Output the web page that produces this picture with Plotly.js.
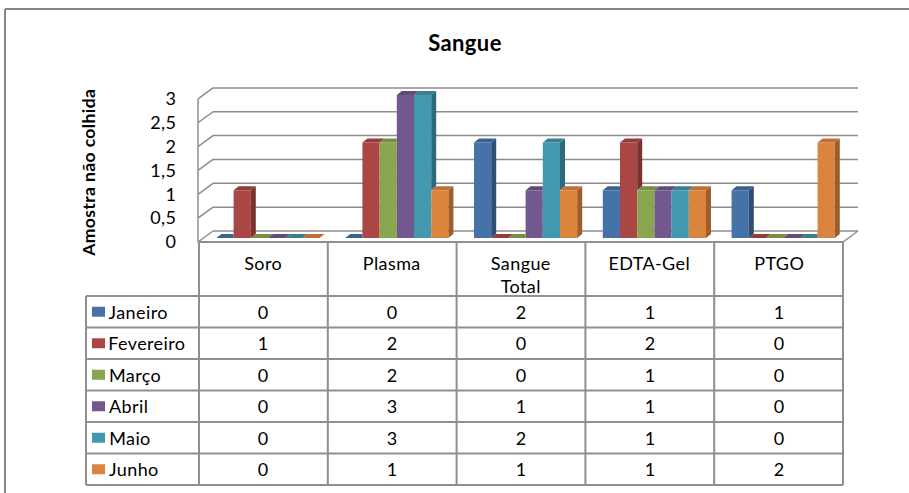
<!DOCTYPE html>
<html>
<head>
<meta charset="utf-8">
<script src="https://cdn.plot.ly/plotly-3.0.1.min.js"></script>
<style>
  html, body { margin: 0; padding: 0; background: #ffffff; }
  #chart { width: 909px; height: 493px; }
  #chart text { letter-spacing: 0.4px; }
</style>
</head>
<body>
<div id="chart"></div>
<script>
// ---- data ----
const categories = ['Soro', 'Plasma', 'Sangue Total', 'EDTA-Gel', 'PTGO'];
const categoryLabels = ['Soro', 'Plasma', 'Sangue<br>Total', 'EDTA-Gel', 'PTGO'];
const months = ['Janeiro', 'Fevereiro', 'Março', 'Abril', 'Maio', 'Junho'];
const janeiro   = [0, 0, 2, 1, 1];
const fevereiro = [1, 2, 0, 2, 0];
const marco     = [0, 2, 0, 1, 0];
const abril     = [0, 3, 1, 1, 0];
const maio      = [0, 3, 2, 1, 0];
const junho     = [0, 1, 1, 1, 2];
const yTicks    = [0, 0.5, 1, 1.5, 2, 2.5, 3];

const series = [janeiro, fevereiro, marco, abril, maio, junho];

// ---- colours (front / side / top faces) ----
const frontColors = ['#4572A7', '#AA4643', '#89A54E', '#71588F', '#4198AF', '#DB843D'];
const sideColors  = ['#2F4E76', '#7A3230', '#62783A', '#513F68', '#2D6B7C', '#9E5D2A'];
const topColors   = ['#3A6291', '#933C39', '#768F42', '#614B7B', '#387F92', '#C07034'];

// ---- geometry (pixels on the 909x493 canvas) ----
const W = 909, H = 493;
const px = x => x / W;
const py = y => 1 - y / H;

const X0 = 199, X1 = 843;          // plot / table column span
const colW = (X1 - X0) / categories.length;
const yFront0 = 242, unitPx = 47.7; // front edge of the floor and pixels per unit
const yTopPx = 80, yBotPx = 250;
const yRange = [(yFront0 - yBotPx) / unitPx, (yFront0 - yTopPx) / unitPx];

const barW = 17.2 / colW;           // bar width in category units
const barStart = -47 / colW;        // first bar's left edge relative to category centre
const baseV = 4 / unitPx;           // bars stand slightly behind the floor edge
const dX = 5 / colW, dY = 4 / unitPx; // bar depth

const gridCol = '#8c8c8c';
const tableCol = '#8f8f8f';
const FONT = 'Lato, "Open Sans", sans-serif';
const FS = 18;

const catIdx = categories.map((_, i) => i);
const traces = [];

// front faces as bars
series.forEach((vals, i) => {
  traces.push({
    type: 'bar',
    name: months[i],
    x: catIdx,
    y: vals,
    base: baseV,
    width: barW,
    offset: barStart + i * barW,
    marker: { color: frontColors[i], line: { width: 0 } },
    hoverinfo: 'skip',
    showlegend: false
  });
});

// side and top faces computed from the same values
series.forEach((vals, i) => {
  const sx = [], sy = [], tx = [], ty = [];
  vals.forEach((v, c) => {
    const x0 = c + barStart + i * barW;
    const x1 = x0 + barW;
    const t = baseV + v;
    const hasNext = i < series.length - 1;
    const vn = hasNext ? series[i + 1][c] : 0;
    const tn = baseV + vn;
    // top face (clipped where the next, taller bar hides it)
    if (hasNext && vn > v) {
      tx.push(x0, x1, x1, x0 + dX, null);
      ty.push(t, t, t + dY, t + dY, null);
    } else {
      tx.push(x0, x1, x1 + dX, x0 + dX, null);
      ty.push(t, t, t + dY, t + dY, null);
    }
    // visible part of the side face
    if (v > vn || (!hasNext && v > 0)) {
      const lo = hasNext ? tn : baseV;
      sx.push(x1, x1 + dX, x1 + dX, x1, null);
      sy.push(lo, lo + dY, t + dY, t, null);
    }
  });
  if (sx.length) {
    traces.push({
      type: 'scatter', mode: 'lines', x: sx, y: sy, fill: 'toself',
      fillcolor: sideColors[i], line: { width: 0, color: sideColors[i] },
      hoverinfo: 'skip', showlegend: false
    });
  }
  traces.push({
    type: 'scatter', mode: 'lines', x: tx, y: ty, fill: 'toself',
    fillcolor: topColors[i], line: { width: 0, color: topColors[i] },
    hoverinfo: 'skip', showlegend: false
  });
});

// ---- walls, floor and grid ----
const shapes = [];
const line = (xa, ya, xb, yb, color, width) => shapes.push({
  type: 'line', xref: 'paper', yref: 'paper', layer: 'below',
  x0: px(xa), y0: py(ya), x1: px(xb), y1: py(yb),
  line: { color: color, width: width }
});

// chart frame
line(5, 9, 920, 9, '#868686', 2);
line(5, 9, 5, 510, '#868686', 2);

yTicks.forEach(v => {
  const yf = yFront0 - unitPx * v;
  const yb = 231 - unitPx * v;
  line(198, yf, 213, yb, gridCol, 1.5);
  line(213, yb, 858, yb, gridCol, 1.5);
});
// left wall front edge and floor right edge
line(198, yFront0 - unitPx * 3, 198, yFront0, gridCol, 1.5);
line(X1, yFront0, 858, 231, gridCol, 1.5);

// ---- data table ----
const headTop = 242, rowTop = 296, rowH = 31.5;
const nRows = months.length;
const tableBottom = rowTop + nRows * rowH;
line(X0 - 1, headTop, X1, headTop, tableCol, 2);
for (let r = 0; r <= nRows; r++) {
  line(86, rowTop + r * rowH, X1, rowTop + r * rowH, tableCol, 2);
}
line(86, rowTop, 86, tableBottom, tableCol, 2);
for (let c = 0; c <= categories.length; c++) {
  line(X0 + c * colW, headTop, X0 + c * colW, tableBottom, tableCol, 2);
}

const annotations = [];
// column headers
categoryLabels.forEach((lab, c) => {
  annotations.push({
    xref: 'x', yref: 'paper', x: c, y: py(250), xanchor: 'center', yanchor: 'top',
    text: lab, showarrow: false, font: { family: FONT, size: FS, color: '#000' }
  });
});
// rows: legend key, month name, values
months.forEach((m, r) => {
  const yc = rowTop + (r + 0.5) * rowH;
  shapes.push({
    type: 'rect', xref: 'paper', yref: 'paper',
    x0: px(92), x1: px(105), y0: py(yc - 5), y1: py(yc + 5),
    fillcolor: frontColors[r], line: { width: 0 }
  });
  annotations.push({
    xref: 'paper', yref: 'paper', x: px(108), y: py(yc), xanchor: 'left', yanchor: 'middle',
    text: m, showarrow: false, font: { family: FONT, size: FS, color: '#000' }
  });
  series[r].forEach((v, c) => {
    annotations.push({
      xref: 'x', yref: 'paper', x: c, y: py(yc), xanchor: 'center', yanchor: 'middle',
      text: String(v), showarrow: false, font: { family: FONT, size: FS, color: '#000' }
    });
  });
});

// y-axis title
annotations.push({
  xref: 'paper', yref: 'paper', x: px(88), y: py(173), xanchor: 'center', yanchor: 'middle',
  text: '<b>Amostra não colhida</b>', textangle: -90, showarrow: false,
  font: { family: FONT, size: 17.5, color: '#000' }
});

const layout = {
  width: W, height: H,
  margin: { l: 0, r: 0, t: 0, b: 0 },
  paper_bgcolor: '#ffffff', plot_bgcolor: 'rgba(0,0,0,0)',
  separators: ',.',
  barmode: 'overlay',
  showlegend: false,
  title: {
    text: '<b>Sangue</b>', x: px(465), y: py(43), xanchor: 'center', yanchor: 'middle',
    font: { family: FONT, size: 22, color: '#000' }
  },
  xaxis: {
    domain: [px(X0), px(X1)], range: [-0.5, categories.length - 0.5],
    showticklabels: false, showgrid: false, zeroline: false, showline: false, ticks: '',
    fixedrange: true
  },
  yaxis: {
    domain: [py(yBotPx), py(yTopPx)], range: yRange,
    tickvals: yTicks, ticks: 'outside', ticklen: 18, tickcolor: 'rgba(0,0,0,0)',
    showgrid: false, zeroline: false, showline: false,
    tickfont: { family: FONT, size: FS, color: '#000' }, fixedrange: true
  },
  shapes: shapes,
  annotations: annotations
};

Plotly.newPlot('chart', traces, layout, { displayModeBar: false, staticPlot: true });
</script>
</body>
</html>
